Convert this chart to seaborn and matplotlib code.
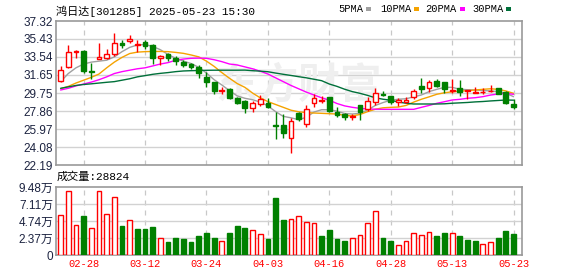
import matplotlib
matplotlib.use("Agg")
import matplotlib.pyplot as plt
import seaborn as sns
import pandas as pd
import numpy as np
from matplotlib.patches import Rectangle

# ---------------- data ----------------
dates = ["02-25", "02-26", "02-27", "02-28",
         "03-03", "03-04", "03-05", "03-06", "03-07", "03-10", "03-11", "03-12", "03-13", "03-14",
         "03-17", "03-18", "03-19", "03-20", "03-21", "03-24", "03-25", "03-26", "03-27", "03-28", "03-31",
         "04-01", "04-02", "04-03", "04-07", "04-08", "04-09", "04-10", "04-11", "04-14", "04-15", "04-16",
         "04-17", "04-18", "04-21", "04-22", "04-23", "04-24", "04-25", "04-28", "04-29", "04-30",
         "05-06", "05-07", "05-08", "05-09", "05-12", "05-13", "05-14", "05-15", "05-16", "05-19",
         "05-20", "05-21", "05-22", "05-23"]

open_ = [31.05, 32.45, 34.03, 34.17, 32.03, 33.36, 33.43, 33.82, 35.04, 35.18,
         34.76, 35.11, 34.80, 33.47, 33.85, 33.47, 32.98, 32.84, 32.52, 31.40,
         30.91, 29.93, 30.17, 29.26, 28.91, 28.21, 28.60, 28.67, 26.40, 26.40,
         24.99, 27.69, 26.50, 28.67, 28.95, 29.30, 27.76, 27.55, 27.23, 28.46,
         28.04, 28.77, 29.68, 29.44, 28.84, 28.85, 29.37, 30.49, 30.24, 31.01,
         30.87, 30.00, 30.31, 29.97, 29.79, 29.86, 29.93, 30.24, 29.90, 28.60]
close = [32.17, 34.06, 34.17, 32.10, 31.96, 33.50, 33.85, 34.97, 34.83, 35.39,
         34.87, 34.69, 33.40, 33.68, 33.47, 33.12, 32.70, 32.49, 31.82, 30.91,
         30.00, 30.07, 29.23, 28.74, 28.14, 28.70, 29.09, 28.32, 26.29, 25.59,
         26.85, 26.99, 28.04, 29.23, 29.05, 27.90, 27.48, 27.20, 27.34, 27.76,
         28.91, 29.72, 29.51, 28.77, 28.98, 29.00, 29.97, 30.14, 30.87, 30.49,
         30.14, 30.07, 29.90, 30.00, 29.90, 29.90, 29.97, 29.65, 28.67, 28.32]
high = [32.59, 34.80, 34.27, 34.27, 32.87, 35.04, 34.34, 36.02, 35.32, 35.85,
        35.32, 35.32, 34.90, 33.75, 33.92, 33.64, 33.22, 32.87, 32.70, 31.96,
        30.94, 30.42, 30.24, 29.37, 29.02, 28.91, 29.54, 29.19, 27.79, 27.55,
        27.09, 27.79, 28.49, 29.65, 29.47, 29.37, 28.25, 27.62, 27.55, 28.53,
        29.30, 30.24, 29.97, 29.47, 29.26, 29.30, 30.14, 31.30, 31.12, 31.23,
        30.94, 31.23, 31.12, 30.07, 30.35, 30.24, 30.59, 30.31, 29.97, 29.09]
low = [30.87, 32.40, 33.40, 31.89, 31.26, 33.36, 33.29, 33.64, 34.45, 35.04,
       34.10, 34.34, 32.77, 32.70, 33.15, 32.73, 32.45, 32.31, 31.30, 30.42,
       29.65, 29.65, 29.16, 28.60, 27.62, 27.79, 28.39, 28.14, 24.89, 24.99,
       23.49, 26.85, 26.15, 28.25, 28.67, 27.79, 27.20, 26.92, 26.92, 26.92,
       27.90, 28.49, 29.44, 28.60, 28.39, 28.67, 29.09, 29.79, 29.90, 30.42,
       29.72, 29.72, 29.48, 29.09, 29.72, 29.65, 29.86, 29.62, 28.60, 28.07]

ma5 = [30.95, 31.80, 32.40, 32.80, 33.00, 33.10, 33.20, 33.55, 34.10, 34.55,
       34.80, 34.85, 34.65, 34.30, 33.80, 33.40, 33.10, 32.85, 32.45, 31.85,
       31.15, 30.60, 30.00, 29.45, 29.20, 29.05, 28.80, 28.40, 27.80, 27.30,
       27.15, 26.95, 27.20, 27.75, 28.00, 28.00, 27.85, 27.60, 27.55, 27.62,
       27.97, 28.45, 28.75, 29.00, 29.10, 29.15, 29.35, 29.55, 29.90, 30.14,
       30.35, 30.35, 30.15, 30.10, 30.07, 30.02, 29.97, 29.90, 29.72, 29.37]
ma10 = [30.20, 30.45, 30.80, 31.10, 31.40, 31.75, 32.40, 33.00, 33.50, 33.90,
        34.05, 34.10, 34.12, 34.12, 34.10, 34.02, 33.92, 33.75, 33.55, 33.10,
        32.55, 31.90, 31.30, 30.75, 30.35, 29.75, 29.25, 28.85, 28.55, 28.25,
        27.95, 27.78, 27.70, 27.65, 27.62, 27.58, 27.55, 27.40, 27.35, 27.50,
        27.80, 28.05, 28.20, 28.25, 28.28, 28.45, 28.80, 29.10, 29.35, 29.62,
        29.78, 29.88, 29.95, 30.00, 30.07, 30.14, 30.20, 30.14, 29.97, 29.72]
ma20 = [30.07, 30.25, 30.50, 30.70, 30.90, 31.15, 31.45, 31.80, 32.00, 32.15,
        32.30, 32.40, 32.60, 32.80, 32.95, 33.20, 33.32, 33.40, 33.42, 33.40,
        33.25, 33.05, 32.80, 32.70, 32.50, 32.30, 32.05, 31.75, 31.35, 30.95,
        30.55, 30.20, 29.85, 29.55, 29.25, 29.00, 28.65, 28.40, 28.25, 28.14,
        28.08, 28.05, 28.04, 28.04, 28.04, 28.04, 28.04, 28.25, 28.45, 28.67,
        28.84, 29.02, 29.09, 29.20, 29.26, 29.37, 29.54, 29.65, 29.72, 29.62]
ma30 = [30.25, 30.40, 30.55, 30.65, 30.72, 30.80, 30.88, 30.95, 31.10, 31.25,
        31.45, 31.58, 31.72, 31.82, 31.90, 32.00, 32.07, 32.10, 32.12, 32.14,
        32.15, 32.15, 32.15, 32.15, 32.16, 32.10, 32.05, 31.99, 31.85, 31.72,
        31.60, 31.47, 31.35, 31.20, 31.05, 30.70, 30.45, 30.15, 29.90, 29.72,
        29.50, 29.25, 29.10, 29.00, 28.80, 28.68, 28.60, 28.60, 28.60, 28.60,
        28.62, 28.68, 28.72, 28.76, 28.82, 28.86, 28.92, 28.97, 29.02, 29.00]

volume = [55300, 88750, 41360, 54370, 37640, 88750, 56700, 80400, 40430, 48330,
          36250, 36250, 39030, 23230, 18120, 23700, 22300, 18120, 26490, 30670,
          23700, 19050, 30670, 40430, 38100, 34390, 28810, 22300, 79460, 48790,
          50190, 54370, 46000, 44150, 26490, 34850, 22300, 19520, 23700, 27880,
          44610, 60880, 23700, 19520, 13940, 19520, 30200, 27880, 32060, 26490,
          30670, 30670, 26490, 20910, 19520, 15330, 18120, 23700, 33460, 28824]
vol_up = [1, 1, 1, 0, 1, 1, 1, 1, 0, 1, 0, 0, 0, 1, 0, 0, 0, 0, 0, 0,
          0, 1, 0, 0, 0, 1, 1, 0, 0, 0, 1, 1, 1, 1, 0, 0, 0, 0, 1, 1,
          1, 1, 0, 0, 1, 1, 1, 1, 1, 0, 0, 1, 0, 0, 0, 1, 1, 0, 0, 0]

price_ticks = [22.19, 24.08, 25.97, 27.86, 29.75, 31.65, 33.54, 35.43, 37.32]
vol_ticks = [0, 23700, 47400, 71100, 94800]
vol_tick_labels = ["0", "2.37万", "4.74万", "7.11万", "9.48万"]
tick_dates = ["02-28", "03-12", "03-24", "04-03", "04-16", "04-28", "05-13", "05-23"]
title = "鸿日达[301285] 2025-05-23 15:30"
ma_names = ["5PMA", "10PMA", "20PMA", "30PMA"]
vol_label = "成交量:28824"

# ---------------- style ----------------
sns.set_theme(style="white")
plt.rcParams["font.family"] = ["Liberation Sans", "Noto Sans CJK SC", "DejaVu Sans"]

RED = "#ff0000"
GREEN = "#008000"
MA_COLORS = ["#a0a0a0", "#f5a300", "#ff00ff", "#00703a"]
GRID = "#d2d2d2"
SPINE = "#999999"
TXT = "#1c2340"

df = pd.DataFrame({"x": np.arange(len(dates)), "date": dates, "open": open_, "close": close,
                   "high": high, "low": low, "vol": volume, "vol_up": vol_up,
                   "ma5": ma5, "ma10": ma10, "ma20": ma20, "ma30": ma30})
df["up"] = df["close"] >= df["open"]

W, H = 578, 276
fig = plt.figure(figsize=(W / 100, H / 100), dpi=100)
fig.patch.set_facecolor("white")

def axrect(l, t, r, b):
    return [l / W, 1 - b / H, (r - l) / W, (b - t) / H]

ax = fig.add_axes(axrect(56, 21, 522, 165))
axv = fig.add_axes(axrect(56, 187, 522, 255))

xlim = (-0.6, 60.1)
tick_pos = [dates.index(d) for d in tick_dates]

for a in (ax, axv):
    a.set_facecolor("white")
    a.set_xlim(*xlim)
    for s in a.spines.values():
        s.set_color(SPINE)
        s.set_linewidth(1.2)
    for p in tick_pos:
        a.axvline(p, color="#c8c8c8", lw=0.9, ls=(0, (4, 4)), zorder=0)
    a.tick_params(axis="both", length=0, pad=2)

# ---- price panel ----
ax.set_ylim(price_ticks[0], price_ticks[-1])
ax.set_yticks(price_ticks)
ax.set_yticklabels([f"{v:.2f}" for v in price_ticks], fontsize=8.5, color=TXT)
for v in price_ticks[1:-1]:
    ax.axhline(v, color=GRID, lw=1.0, zorder=0)
ax.set_xticks([])

ax.text(0.52, 0.55, "东方财富", transform=ax.transAxes, fontsize=30, color="#efefef",
        ha="center", va="center", fontweight="bold", style="italic", zorder=0,
        family=["Noto Sans CJK SC"])

# moving averages
for col, c in zip(["ma5", "ma10", "ma20", "ma30"], MA_COLORS):
    sns.lineplot(data=df, x="x", y=col, ax=ax, color=c, lw=1.0, zorder=2, legend=False)
ax.set_xlabel("")
ax.set_ylabel("")

# candles
bw = 0.62
ax.vlines(df["x"], df["low"], df["high"], colors=[RED if u else GREEN for u in df["up"]],
          lw=1.0, zorder=3)
body_bottom = np.minimum(df["open"], df["close"])
body_h = np.maximum(np.abs(df["close"] - df["open"]), 0.05)
up = df["up"].values
ax.bar(df["x"][up], body_h[up], bottom=body_bottom[up], width=bw, facecolor="white",
       edgecolor=RED, linewidth=1.0, zorder=4)
ax.bar(df["x"][~up], body_h[~up], bottom=body_bottom[~up], width=bw, facecolor=GREEN,
       edgecolor=GREEN, linewidth=1.0, zorder=4)
ax.set_xlim(*xlim)

# ---- volume panel ----
axv.set_ylim(0, vol_ticks[-1])
axv.set_yticks(vol_ticks)
axv.set_yticklabels(vol_tick_labels, fontsize=8.5, color=TXT)
for v in vol_ticks[1:-1]:
    axv.axhline(v, color=GRID, lw=1.0, zorder=0)
vu = df["vol_up"].values.astype(bool)
axv.bar(df["x"][vu], df["vol"][vu], width=bw, facecolor="white", edgecolor=RED, linewidth=1.0, zorder=3)
axv.bar(df["x"][~vu], df["vol"][~vu], width=bw, facecolor=GREEN, edgecolor=GREEN, linewidth=1.0, zorder=3)
axv.set_xticks(tick_pos)
axv.set_xticklabels(tick_dates, fontsize=7.5, color=RED, family=["Liberation Mono"])
axv.tick_params(axis="x", pad=3)
axv.set_xlim(*xlim)

# ---- texts ----
mono = ["Liberation Mono", "Noto Sans CJK SC"]
fig.text(56 / W, 1 - 11 / H, title, fontsize=8, color="black", va="center", ha="left", family=mono)
fig.text(57 / W, 1 - 177 / H, vol_label, fontsize=8, color="black", va="center", ha="left", family=mono)

legend_x = [338, 380, 425, 472]
square_x = [366, 414, 460, 506]
for name, lx, sx, c in zip(ma_names, legend_x, square_x, MA_COLORS):
    fig.text(lx / W, 1 - 9 / H, name, fontsize=7.5, color="black", va="center", ha="left",
             family=["Liberation Mono"])
    fig.add_artist(Rectangle((sx / W, 1 - 11 / H), 5 / W, 4 / H, transform=fig.transFigure,
                             facecolor=c, edgecolor="none"))

fig.savefig("out.png", dpi=100, facecolor="white")
